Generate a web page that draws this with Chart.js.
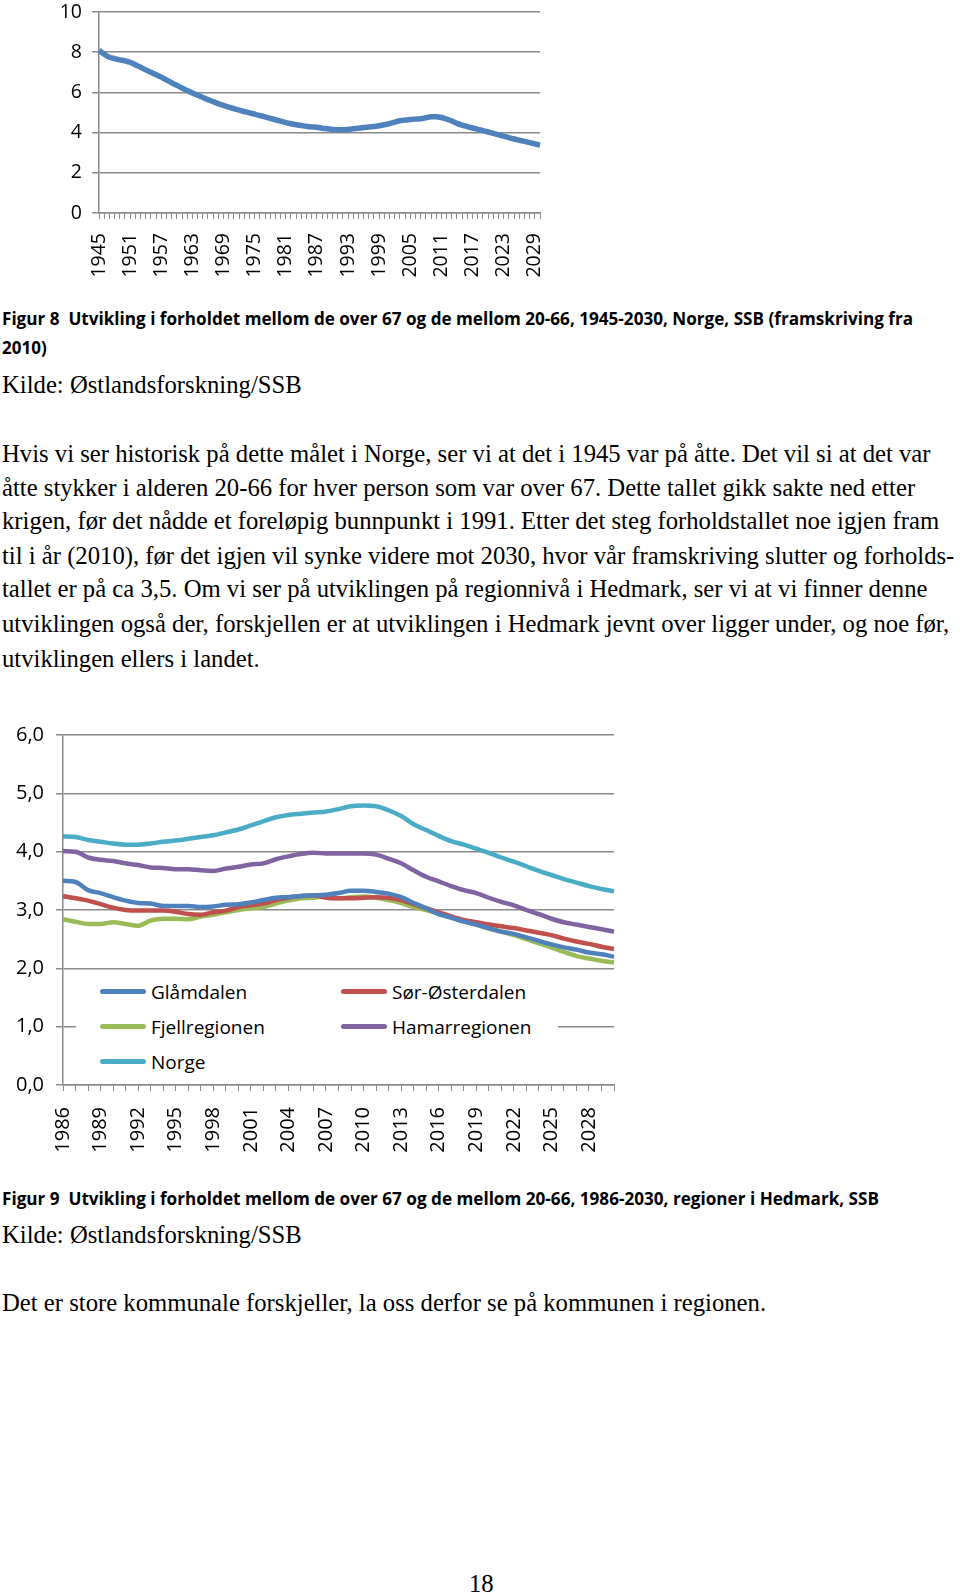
<!DOCTYPE html>
<html>
<head>
<meta charset="utf-8">
<script src="https://cdn.jsdelivr.net/npm/chart.js@4/dist/chart.umd.min.js"></script>
<style>
  body { margin: 0; background: #fff; width: 960px; height: 1596px; position: relative; overflow: hidden; }
  .abs { position: absolute; white-space: pre; color: #000; }
  .cap { font-family: "Open Sans", sans-serif; font-weight: bold; font-size: 17px; line-height: 24px; transform-origin: left center; }
  .ser { font-family: "Liberation Serif", "Times New Roman", serif; font-size: 24.7px; line-height: 34px; }
  #legende { position: absolute; left: 76px; top: 975px; width: 482px; height: 102px; background: #fff; }
  .leg { position: absolute; font-family: "Open Sans", sans-serif; font-size: 19px; line-height: 26px; white-space: nowrap; }
  .leg span { display: inline-block; width: 46px; height: 5px; border-radius: 3px; vertical-align: middle; margin-right: 5px; position: relative; top: -2px; }
</style>
</head>
<body>

<canvas id="grafNorge" width="510" height="290" class="abs" style="left:40px;top:0px"></canvas>

<div class="abs cap fit" data-w="911" style="left:2px;top:307px">Figur 8  Utvikling i forholdet mellom de over 67 og de mellom 20-66, 1945-2030, Norge, SSB (framskriving fra</div>
<div class="abs cap" style="left:2px;top:336px">2010)</div>
<div class="abs ser" style="left:2px;top:368px">Kilde: Østlandsforskning/SSB</div>

<div class="abs ser" style="left:2px;top:437px">Hvis vi ser historisk på dette målet i Norge, ser vi at det i 1945 var på åtte. Det vil si at det var</div>
<div class="abs ser" style="left:2px;top:471px">åtte stykker i alderen 20-66 for hver person som var over 67. Dette tallet gikk sakte ned etter</div>
<div class="abs ser" style="left:2px;top:504px">krigen, før det nådde et foreløpig bunnpunkt i 1991. Etter det steg forholdstallet noe igjen fram</div>
<div class="abs ser" style="left:2px;top:539px">til i år (2010), før det igjen vil synke videre mot 2030, hvor vår framskriving slutter og forholds-</div>
<div class="abs ser" style="left:2px;top:572px">tallet er på ca 3,5. Om vi ser på utviklingen på regionnivå i Hedmark, ser vi at vi finner denne</div>
<div class="abs ser" style="left:2px;top:607px">utviklingen også der, forskjellen er at utviklingen i Hedmark jevnt over ligger under, og noe før,</div>
<div class="abs ser" style="left:2px;top:642px">utviklingen ellers i landet.</div>

<canvas id="grafRegioner" width="625" height="440" class="abs" style="left:0px;top:720px"></canvas>
<div id="legende"></div>

<div class="abs cap fit" data-w="877" style="left:2px;top:1187px">Figur 9  Utvikling i forholdet mellom de over 67 og de mellom 20-66, 1986-2030, regioner i Hedmark, SSB</div>
<div class="abs ser" style="left:2px;top:1218px">Kilde: Østlandsforskning/SSB</div>
<div class="abs ser" style="left:2px;top:1286px">Det er store kommunale forskjeller, la oss derfor se på kommunen i regionen.</div>
<div class="abs ser" style="left:469px;top:1567px">18</div>

<script>
// Figur 8: forholdstall Norge 1945-2030
var aarNorge = [];
for (var a = 1945; a <= 2030; a++) aarNorge.push(String(a));
var verdierNorge = [
    8.1, 7.9, 7.75, 7.68, 7.62, 7.57, 7.5, 7.38, 7.25, 7.12,
    7.0, 6.88, 6.76, 6.62, 6.48, 6.35, 6.22, 6.09, 5.97, 5.86,
    5.75, 5.64, 5.54, 5.44, 5.35, 5.27, 5.19, 5.12, 5.05, 4.98,
    4.92, 4.85, 4.78, 4.71, 4.64, 4.57, 4.5, 4.44, 4.39, 4.35,
    4.31, 4.28, 4.27, 4.22, 4.19, 4.16, 4.14, 4.14, 4.16, 4.19,
    4.22, 4.25, 4.28, 4.3, 4.34, 4.39, 4.45, 4.52, 4.59, 4.63,
    4.65, 4.67, 4.69, 4.74, 4.79, 4.79, 4.75, 4.67, 4.58, 4.46,
    4.37, 4.3, 4.23, 4.16, 4.1, 4.03, 3.96, 3.89, 3.82, 3.75,
    3.68, 3.62, 3.56, 3.5, 3.44, 3.38
];

// Figur 9: regioner i Hedmark 1986-2030
var aarRegioner = [];
for (var b = 1986; b <= 2030; b++) aarRegioner.push(String(b));
var glamdalen = [
    3.5, 3.48, 3.34, 3.29, 3.22, 3.16, 3.12, 3.11, 3.07, 3.07,
    3.07, 3.05, 3.06, 3.09, 3.1, 3.13, 3.17, 3.21, 3.22, 3.24,
    3.25, 3.26, 3.29, 3.33, 3.33, 3.31, 3.28, 3.22, 3.12, 3.03,
    2.93, 2.87, 2.8, 2.75, 2.69, 2.63, 2.59, 2.53, 2.47, 2.41,
    2.36, 2.32, 2.27, 2.24, 2.2
];
var sorOsterdalen = [
    3.24, 3.2, 3.16, 3.1, 3.04, 3.0, 2.99, 2.99, 2.99, 2.97,
    2.93, 2.92, 2.96, 2.99, 3.05, 3.08, 3.11, 3.17, 3.21, 3.24,
    3.25, 3.21, 3.2, 3.2, 3.21, 3.22, 3.21, 3.17, 3.1, 3.03,
    2.96, 2.89, 2.83, 2.79, 2.75, 2.72, 2.69, 2.65, 2.61, 2.57,
    2.51, 2.46, 2.42, 2.37, 2.33
];
var fjellregionen = [
    2.84, 2.8, 2.76, 2.76, 2.79, 2.76, 2.73, 2.82, 2.85, 2.85,
    2.84, 2.89, 2.92, 2.96, 3.0, 3.03, 3.05, 3.11, 3.16, 3.2,
    3.21, 3.24, 3.2, 3.22, 3.23, 3.21, 3.17, 3.12, 3.05, 3.0,
    2.94, 2.87, 2.81, 2.75, 2.68, 2.63, 2.57, 2.5, 2.43, 2.36,
    2.28, 2.21, 2.17, 2.13, 2.1
];
var hamarregionen = [
    4.01, 4.0, 3.9, 3.86, 3.84, 3.8, 3.77, 3.73, 3.72, 3.7,
    3.7, 3.68, 3.67, 3.71, 3.74, 3.78, 3.8, 3.87, 3.92, 3.96,
    3.98, 3.97, 3.97, 3.97, 3.97, 3.95, 3.88, 3.8, 3.68, 3.57,
    3.49, 3.41, 3.34, 3.29, 3.21, 3.14, 3.08, 3.0, 2.93, 2.85,
    2.79, 2.75, 2.71, 2.67, 2.63
];
var norge = [
    4.26, 4.25, 4.2, 4.17, 4.14, 4.12, 4.12, 4.14, 4.17, 4.19,
    4.22, 4.25, 4.28, 4.33, 4.38, 4.45, 4.52, 4.59, 4.63, 4.65,
    4.67, 4.69, 4.73, 4.78, 4.79, 4.78, 4.71, 4.61, 4.47, 4.37,
    4.27, 4.18, 4.12, 4.05, 3.98, 3.9, 3.83, 3.75, 3.67, 3.6,
    3.53, 3.47, 3.41, 3.36, 3.32
];

var navnRegioner = ['Glåmdalen', 'Sør-Østerdalen', 'Fjellregionen', 'Hamarregionen', 'Norge'];
var fargerRegioner = ['#4F81BD', '#C0504D', '#9BBB59', '#8064A2', '#4BACC6'];
var dataRegioner = [glamdalen, sorOsterdalen, fjellregionen, hamarregionen, norge];

var gra = '#8a8a8a';

// fast aksebredde/-hoyde og ingen ekstra padding fra skraa etiketter
function fastX(h) {
    return function (s) { s.height = h; s.paddingLeft = 0; s.paddingRight = 0; };
}
function fastY(w) {
    return function (s) { s.width = w; s.paddingTop = 0; s.paddingBottom = 0; };
}

new Chart(document.getElementById('grafNorge').getContext('2d'), {
    type: 'line',
    data: {
        labels: aarNorge,
        datasets: [{
            data: verdierNorge,
            borderColor: '#4F81BD',
            borderWidth: 5.5,
            pointRadius: 0,
            tension: 0.4,
            cubicInterpolationMode: 'monotone'
        }]
    },
    options: {
        responsive: false,
        animation: false,
        layout: { padding: { top: 12, right: 10, left: 0, bottom: 0 } },
        plugins: { legend: { display: false }, tooltip: { enabled: false } },
        scales: {
            x: {
                afterFit: fastX(77),
                grid: { drawOnChartArea: false, drawTicks: true, tickLength: 6, color: gra, lineWidth: 1 },
                border: { color: gra, width: 1.5 },
                ticks: {
                    autoSkip: false, maxRotation: 90, minRotation: 90, padding: 14,
                    color: '#000', font: { family: 'Open Sans', size: 19.5 },
                    callback: function (v, i) { return (i % 6 == 0) ? aarNorge[i] : ''; }
                }
            },
            y: {
                min: 0, max: 10,
                afterFit: fastY(59),
                grid: { color: gra, lineWidth: 1.5, tickLength: 7 },
                border: { color: gra, width: 1.5 },
                ticks: { stepSize: 2, padding: 10, color: '#000', font: { family: 'Open Sans', size: 19.5 } }
            }
        }
    }
});

var datasets = [];
for (var i = 0; i < navnRegioner.length; i++) {
    datasets.push({
        label: navnRegioner[i],
        data: dataRegioner[i],
        borderColor: fargerRegioner[i],
        borderWidth: 4.5,
        pointRadius: 0,
        tension: 0.4,
        cubicInterpolationMode: 'monotone'
    });
}

new Chart(document.getElementById('grafRegioner').getContext('2d'), {
    type: 'line',
    data: { labels: aarRegioner, datasets: datasets },
    options: {
        responsive: false,
        animation: false,
        layout: { padding: { top: 15, right: 11, left: 0, bottom: 0 } },
        plugins: { legend: { display: false }, tooltip: { enabled: false } },
        scales: {
            x: {
                afterFit: fastX(75),
                grid: { drawOnChartArea: false, drawTicks: true, tickLength: 6, color: gra, lineWidth: 1 },
                border: { color: gra, width: 1.5 },
                ticks: {
                    autoSkip: false, maxRotation: 90, minRotation: 90, padding: 16,
                    color: '#000', font: { family: 'Open Sans', size: 20 },
                    callback: function (v, i) { return (i % 3 == 0) ? aarRegioner[i] : ''; }
                }
            },
            y: {
                min: 0, max: 6,
                afterFit: fastY(63),
                grid: { color: gra, lineWidth: 1.5, tickLength: 7 },
                border: { color: gra, width: 1.5 },
                ticks: {
                    stepSize: 1, padding: 12, color: '#000', font: { family: 'Open Sans', size: 20 },
                    callback: function (v) { return v.toFixed(1).replace('.', ','); }
                }
            }
        }
    }
});

// legende inne i plottet (hvit boks over 1,0-linja)
var legPos = [[24, 4], [265, 4], [24, 39], [265, 39], [24, 74]];
var legende = document.getElementById('legende');
for (var j = 0; j < navnRegioner.length; j++) {
    var d = document.createElement('div');
    d.className = 'leg';
    d.style.left = legPos[j][0] + 'px';
    d.style.top = legPos[j][1] + 'px';
    d.innerHTML = '<span style="background:' + fargerRegioner[j] + '"></span>' + navnRegioner[j];
    legende.appendChild(d);
}

// smalere bildetekst (Calibri-lik bredde)
document.querySelectorAll('.fit').forEach(function (el) {
    var w = el.getBoundingClientRect().width;
    var mal = Number(el.dataset.w);
    el.style.transform = 'scaleX(' + (mal / w) + ')';
});
</script>
</body>
</html>
